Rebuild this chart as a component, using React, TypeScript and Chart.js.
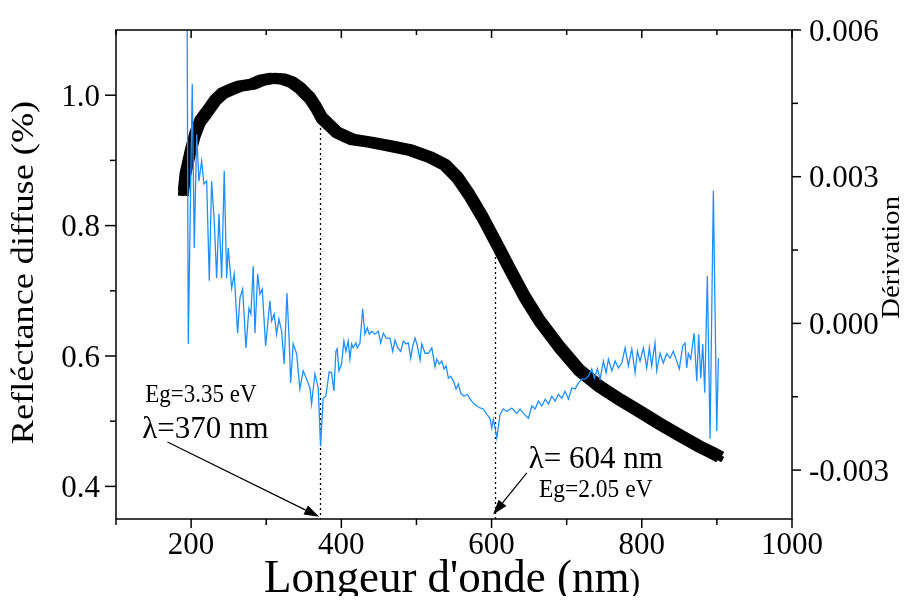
import React, { useEffect, useRef } from "react";
import { Chart, registerables } from "chart.js";

Chart.register(...registerables);

// ---------- axes ----------
const X_MIN = 100;
const X_MAX = 1000;
const X_MAJOR = [200, 400, 600, 800, 1000];
const X_MINOR = [100, 300, 500, 700, 900];
const X_LABELS = ["200", "400", "600", "800", "1000"];

const Y_MIN = 0.35;
const Y_MAX = 1.1;
const Y_MAJOR = [0.4, 0.6, 0.8, 1.0];
const Y_MINOR = [0.5, 0.7, 0.9];
const Y_LABELS = ["0.4", "0.6", "0.8", "1.0"];

const Y2_MIN = -0.004;
const Y2_MAX = 0.006;
const Y2_MAJOR = [-0.003, 0, 0.003, 0.006];
const Y2_MINOR = [-0.0015, 0.0015, 0.0045];
const Y2_LABELS = ["-0.003", "0.000", "0.003", "0.006"];

// ---------- reflectance (left axis) ----------
const REFL_NM = [
  190, 192, 199, 205, 212, 221, 232, 242, 254, 265,
  282, 294, 308, 322, 334, 345, 358, 366, 374, 385,
  394, 405, 415, 438, 465, 491, 518, 538, 555, 571,
  588, 606, 624, 644, 664, 691, 717, 744, 771, 797,
  824, 851, 877, 893, 901,
];
const REFL = [
  0.854, 0.877, 0.913, 0.939, 0.96, 0.974, 0.992, 1.003, 1.009, 1.014,
  1.017, 1.023, 1.026, 1.025, 1.02, 1.011, 0.996, 0.982, 0.965, 0.953,
  0.943, 0.937, 0.932, 0.928, 0.922, 0.916, 0.905, 0.893, 0.873, 0.846,
  0.813, 0.774, 0.734, 0.691, 0.654, 0.613, 0.578, 0.553, 0.533, 0.515,
  0.496, 0.478, 0.461, 0.452, 0.447,
];

// ---------- derivative (right axis) ----------
const DERIV_NM = [
  194.5, 196.2, 201.5, 204.2, 207.4, 210.4, 214.0, 217.1, 220.7, 224.2,
  227.3, 230.8, 234.0, 237.1, 240.7, 244.1, 247.3, 249.4, 254.0, 257.4,
  261.9, 265.0, 268.6, 273.0, 277.0, 279.6, 282.7, 285.0, 288.6, 291.6,
  294.7, 299.2, 304.9, 307.2, 310.6, 313.8, 316.9, 320.5, 323.9, 327.6,
  330.6, 332.5, 335.9, 340.5, 344.8, 349.2, 353.8, 358.2, 360.4, 364.8,
  369.2, 372.4, 375.8, 379.4, 383.8, 387.0, 390.1, 392.8, 394.5, 396.8,
  400.3, 403.4, 406.1, 409.1, 411.4, 413.7, 415.8, 419.4, 421.2, 424.8,
  428.4, 431.4, 434.5, 437.2, 440.4, 444.8, 449.2, 452.4, 455.9, 459.5,
  464.8, 468.4, 471.5, 475.1, 479.1, 482.6, 486.2, 489.2, 492.4, 495.1,
  498.2, 501.2, 504.8, 507.1, 511.5, 515.9, 520.4, 524.8, 527.1, 530.5,
  533.7, 536.8, 539.4, 542.5, 545.7, 549.2, 552.8, 555.8, 559.0, 563.4,
  567.8, 571.4, 575.8, 580.3, 584.7, 589.1, 593.6, 598.0, 600.3, 602.4,
  604.7, 607.0, 611.3, 615.7, 620.3, 626.9, 633.6, 638.0, 642.4, 649.1,
  653.6, 658.0, 662.4, 666.9, 671.3, 675.7, 680.2, 684.6, 689.0, 693.5,
  697.9, 702.3, 706.8, 711.2, 715.6, 720.1, 724.5, 728.9, 733.4, 736.9,
  740.9, 744.5, 748.9, 752.5, 755.6, 760.1, 764.5, 768.9, 773.4, 777.8,
  782.2, 786.7, 791.1, 794.2, 797.7, 802.1, 806.6, 810.1, 813.2, 817.6,
  819.9, 824.3, 828.7, 833.2, 837.6, 842.0, 845.6, 850.0, 854.5, 857.6,
  859.8, 862.0, 865.2, 869.6, 873.2, 875.8, 878.5, 881.2, 883.8, 887.3,
  890.9, 895.3, 899.8, 902.0,
];
const DERIV = [
  0.0072, -0.00042, 0.0049, 0.00154, 0.00387, 0.00291, 0.00332, 0.00285, 0.00291, 0.00087,
  0.00291, 0.00209, 0.00093, 0.00224, 0.00093, 0.00312, 0.00093, 0.00154, 0.00072, 0.00101,
  -0.0002, 0.00052, 0.0007, -0.0005, 0.00031, 0.00019, 0.00117, -0.0002, 0.00101, 0.0006,
  0.0007, -0.00046, 0.00046, 0.00005, 0.00019, -0.00022, 0.00009, -0.00016, -0.00083, 0.00062,
  -0.00036, -0.00122, -0.00042, -0.00062, -0.00134, -0.00097, -0.00114, -0.00132, -0.00165, -0.00103,
  -0.00132, -0.00251, -0.00153, -0.00149, -0.00099, -0.00101, -0.00138, -0.00057, -0.00052, -0.00097,
  -0.00083, -0.00036, -0.00057, -0.00036, -0.00073, -0.00042, -0.0005, -0.0004, -0.0005, -0.0004,
  0.0003, -0.00022, -0.00009, -0.00022, -0.00016, -0.00022, -0.00016, -0.0004, -0.0002, -0.0003,
  -0.0003, -0.00057, -0.00034, -0.0005, -0.00057, -0.00036, -0.00042, -0.0004, -0.00071, -0.00046,
  -0.0003, -0.00046, -0.00075, -0.00042, -0.00061, -0.00061, -0.0005, -0.00089, -0.00073, -0.00083,
  -0.00077, -0.00093, -0.00087, -0.00112, -0.00108, -0.00118, -0.00134, -0.00124, -0.00143, -0.00149,
  -0.00145, -0.00155, -0.00163, -0.00169, -0.00173, -0.00175, -0.00186, -0.00194, -0.00214, -0.00196,
  -0.00214, -0.00234, -0.00186, -0.00175, -0.0018, -0.00173, -0.00184, -0.00175, -0.00184, -0.00194,
  -0.00169, -0.00175, -0.00159, -0.00169, -0.00155, -0.00165, -0.00149, -0.00159, -0.00145, -0.00153,
  -0.00139, -0.00155, -0.00132, -0.00134, -0.00122, -0.00114, -0.00114, -0.00108, -0.00093, -0.00112,
  -0.00093, -0.00114, -0.00077, -0.00101, -0.00073, -0.00097, -0.00077, -0.00091, -0.00081, -0.0005,
  -0.00087, -0.00052, -0.00101, -0.00057, -0.00077, -0.0005, -0.00091, -0.0005, -0.00087, -0.0004,
  -0.00097, -0.00061, -0.00081, -0.00062, -0.00071, -0.00057, -0.00073, -0.00093, -0.00046, -0.0004,
  -0.00091, -0.00062, -0.00073, -0.0002, -0.00118, -0.00022, -0.00112, -0.00042, -0.00142, 0.00097,
  -0.00236, 0.00271, -0.0022, -0.00071,
];

// ---------- band-gap markers & notes ----------
const GAP_NM = [372, 605];
const GAP_TOP = [0.965, 0.775];

const NOTE_TEXT = ["Eg=3.35 eV", "\u03bb=370 nm", "\u03bb= 604 nm", "Eg=2.05 eV"];
const NOTE_NM = [139, 135, 649.5, 663];
const NOTE_VAL = [0.5295, 0.4742, 0.4283, 0.3838];
const NOTE_SIZE = [23, 31, 31, 23.5];

const ARROW_FROM_NM = [168.5, 647];
const ARROW_FROM_VAL = [0.468, 0.4206];
const ARROW_TO_NM = [370.5, 602];
const ARROW_TO_VAL = [0.3535, 0.357];

const H_STRETCH = 1.05;
const R_STRETCH = 1.15;
const FONT = '"Liberation Serif", "Times New Roman", serif';

function txt(
  ctx: CanvasRenderingContext2D,
  s: string,
  x: number,
  y: number,
  size: number,
  align: CanvasTextAlign,
  rot = 0
) {
  ctx.save();
  ctx.translate(x, y);
  if (rot) {
    ctx.rotate(rot);
    ctx.scale(R_STRETCH, 1);
    ctx.textBaseline = "middle";
  } else {
    ctx.scale(1, H_STRETCH);
    ctx.textBaseline = "alphabetic";
  }
  ctx.font = `${size}px ${FONT}`;
  ctx.textAlign = align;
  ctx.fillStyle = "#000";
  ctx.fillText(s, 0, 0);
  ctx.restore();
}

const decor = {
  id: "decor",
  beforeDatasetsDraw(chart: any) {
    const ctx: CanvasRenderingContext2D = chart.ctx;
    const xs = chart.scales.x;
    const ys = chart.scales.y;
    const a = chart.chartArea;
    ctx.save();
    ctx.strokeStyle = "#000";
    ctx.lineWidth = 1.3;
    ctx.setLineDash([2, 3]);
    GAP_NM.forEach((nm, i) => {
      const x = Math.round(xs.getPixelForValue(nm)) + 0.5;
      ctx.beginPath();
      ctx.moveTo(x, ys.getPixelForValue(GAP_TOP[i]));
      ctx.lineTo(x, a.bottom);
      ctx.stroke();
    });
    ctx.restore();
  },
  afterDatasetDraw(chart: any, args: any) {
    const ds = chart.data.datasets[args.index];
    if (ds.label !== "refl") return;
    const ctx: CanvasRenderingContext2D = chart.ctx;
    const el = args.meta.dataset;
    const offs = [
      [-2.5, -2.5],
      [2.5, -2.5],
      [-2.5, 2.5],
      [2.5, 2.5],
    ];
    for (const [dx, dy] of offs) {
      ctx.save();
      ctx.translate(dx, dy);
      el.draw(ctx, chart.chartArea);
      ctx.restore();
    }
  },
  afterDraw(chart: any) {
    const ctx: CanvasRenderingContext2D = chart.ctx;
    const xs = chart.scales.x;
    const ys = chart.scales.y;
    const y2 = chart.scales.y2;
    const a = chart.chartArea;
    ctx.save();
    ctx.strokeStyle = "#000";
    ctx.lineWidth = 1.5;
    ctx.setLineDash([]);
    ctx.strokeRect(a.left, a.top, a.right - a.left, a.bottom - a.top);

    const line = (x1: number, y1: number, x2: number, y2p: number) => {
      ctx.beginPath();
      ctx.moveTo(x1, y1);
      ctx.lineTo(x2, y2p);
      ctx.stroke();
    };
    // x ticks
    X_MAJOR.forEach((v) => {
      const x = xs.getPixelForValue(v);
      line(x, a.bottom, x, a.bottom + 9);
      line(x, a.top, x, a.top + 8);
    });
    X_MINOR.forEach((v) => {
      const x = xs.getPixelForValue(v);
      line(x, a.bottom, x, a.bottom + 6);
      line(x, a.top, x, a.top + 5);
    });
    // left ticks
    Y_MAJOR.forEach((v) => {
      const y = ys.getPixelForValue(v);
      line(a.left - 11, y, a.left, y);
    });
    Y_MINOR.forEach((v) => {
      const y = ys.getPixelForValue(v);
      line(a.left - 6, y, a.left, y);
    });
    // right ticks
    Y2_MAJOR.forEach((v) => {
      const y = y2.getPixelForValue(v);
      line(a.right, y, a.right + 9, y);
    });
    Y2_MINOR.forEach((v) => {
      const y = y2.getPixelForValue(v);
      line(a.right, y, a.right + 6, y);
    });

    // tick labels
    const TS = 31;
    X_MAJOR.forEach((v, i) => {
      txt(ctx, X_LABELS[i], xs.getPixelForValue(v), a.bottom + 35, TS, "center");
    });
    Y_MAJOR.forEach((v, i) => {
      txt(ctx, Y_LABELS[i], a.left - 16, ys.getPixelForValue(v) + 0.33 * TS * H_STRETCH, TS, "right");
    });
    Y2_MAJOR.forEach((v, i) => {
      txt(ctx, Y2_LABELS[i], a.right + 17, y2.getPixelForValue(v) + 0.33 * TS * H_STRETCH, TS, "left");
    });

    // x title with smaller closing parenthesis
    const main = "Longeur d'onde (nm";
    const close = ")";
    ctx.font = `45px ${FONT}`;
    const w1 = ctx.measureText(main).width;
    ctx.font = `32px ${FONT}`;
    const w2 = ctx.measureText(close).width;
    const cx = (a.left + a.right) / 2 - 2;
    const x0 = cx - (w1 + w2) / 2;
    const by = a.bottom + 73;
    txt(ctx, main, x0, by, 45, "left");
    txt(ctx, close, x0 + w1, by, 32, "left");

    // y titles
    txt(ctx, "Refl\u00e9ctance diffuse (%)", 17, (a.top + a.bottom) / 2 - 2, 31.5, "center", -Math.PI / 2);
    txt(ctx, "D\u00e9rivation", a.right + 100, y2.getPixelForValue(0.00135), 25, "center", -Math.PI / 2);

    // notes
    NOTE_TEXT.forEach((t, i) => {
      txt(ctx, t, xs.getPixelForValue(NOTE_NM[i]), ys.getPixelForValue(NOTE_VAL[i]), NOTE_SIZE[i], "left");
    });

    // arrows
    ctx.lineWidth = 1.2;
    ARROW_FROM_NM.forEach((nm, i) => {
      const fx = xs.getPixelForValue(nm);
      const fy = ys.getPixelForValue(ARROW_FROM_VAL[i]);
      const tx = xs.getPixelForValue(ARROW_TO_NM[i]);
      const ty = ys.getPixelForValue(ARROW_TO_VAL[i]);
      const ang = Math.atan2(ty - fy, tx - fx);
      const L = 15;
      const H = 5;
      const bx = tx - L * Math.cos(ang);
      const byy = ty - L * Math.sin(ang);
      line(fx, fy, bx, byy);
      ctx.beginPath();
      ctx.moveTo(tx, ty);
      ctx.lineTo(bx + H * Math.sin(ang), byy - H * Math.cos(ang));
      ctx.lineTo(bx - H * Math.sin(ang), byy + H * Math.cos(ang));
      ctx.closePath();
      ctx.fillStyle = "#000";
      ctx.fill();
    });
    ctx.restore();
  },
};

export default function App() {
  const ref = useRef<HTMLCanvasElement | null>(null);
  useEffect(() => {
    if (!ref.current) return;
    const hidden = { display: false };
    const chart = new Chart(ref.current, {
      type: "line",
      data: {
        datasets: [
          {
            label: "deriv",
            data: DERIV_NM.map((x, i) => ({ x, y: DERIV[i] })),
            yAxisID: "y2",
            borderColor: "#1f8fff",
            borderWidth: 1.3,
            pointRadius: 0,
            tension: 0,
            fill: false,
          },
          {
            label: "refl",
            data: REFL_NM.map((x, i) => ({ x, y: REFL[i] })),
            yAxisID: "y",
            borderColor: "#000",
            borderWidth: 6,
            borderCapStyle: "square",
            borderJoinStyle: "miter",
            pointRadius: 0,
            tension: 0,
            fill: false,
          },
        ],
      },
      options: {
        animation: false,
        responsive: true,
        maintainAspectRatio: false,
        events: [],
        layout: { padding: { top: 22, left: 0, right: 0, bottom: 0 } },
        plugins: { legend: { display: false }, tooltip: { enabled: false } },
        scales: {
          x: {
            type: "linear",
            position: "bottom",
            min: X_MIN,
            max: X_MAX,
            ticks: { display: false },
            grid: hidden,
            border: hidden,
            afterFit: (s: any) => {
              s.height = 77;
            },
          },
          y: {
            type: "linear",
            position: "left",
            min: Y_MIN,
            max: Y_MAX,
            ticks: { display: false },
            grid: hidden,
            border: hidden,
            afterFit: (s: any) => {
              s.width = 108;
            },
          },
          y2: {
            type: "linear",
            position: "right",
            min: Y2_MIN,
            max: Y2_MAX,
            ticks: { display: false },
            grid: hidden,
            border: hidden,
            afterFit: (s: any) => {
              s.width = 108;
            },
          },
        },
      } as any,
      plugins: [decor as any],
    });
    return () => chart.destroy();
  }, []);
  return (
    <div style={{ width: 892, height: 588, position: "relative" }}>
      <canvas ref={ref} />
    </div>
  );
}
